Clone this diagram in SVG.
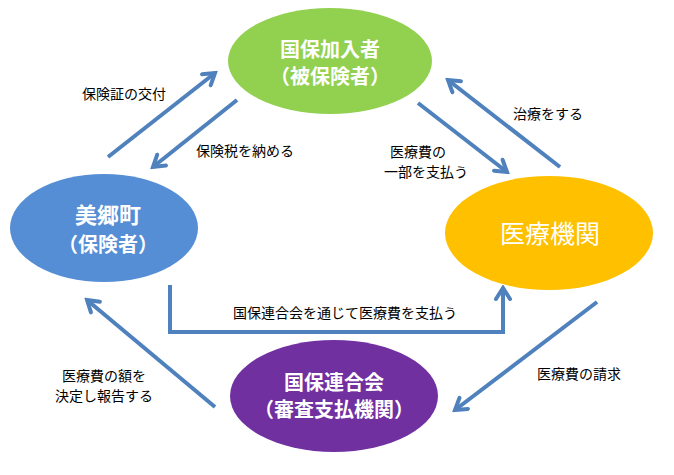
<svg xmlns="http://www.w3.org/2000/svg" width="674" height="475" viewBox="0 0 674 475">
<defs>
<marker id="ah" viewBox="0 0 18 18" refX="15" refY="9" markerWidth="18" markerHeight="18" markerUnits="userSpaceOnUse" orient="auto">
<path d="M4,2 L15,9 L4,16" fill="none" stroke="#4F81BD" stroke-width="4" stroke-linecap="round" stroke-linejoin="miter"/>
</marker>
<style>
.n{font-family:"Noto Sans CJK JP","Noto Sans CJK SC",sans-serif;fill:#fff;text-anchor:middle;dominant-baseline:central}
.b{font-weight:bold;font-size:20px}
.l{font-family:"Noto Sans CJK JP","Noto Sans CJK SC",sans-serif;font-size:14px;fill:#000;text-anchor:middle;dominant-baseline:central}
.c{fill:none;stroke:#4F81BD;stroke-width:4;marker-end:url(#ah)}
</style>
</defs>
<rect width="674" height="475" fill="#fff"/>
<g id="connectors">
<line class="c" x1="108" y1="157" x2="215" y2="73"/>
<line class="c" x1="237" y1="100" x2="153" y2="167"/>
<line class="c" x1="418" y1="103" x2="507" y2="172"/>
<line class="c" x1="560" y1="167" x2="448" y2="80"/>
<polyline class="c" points="170,285 170,332 503,332 503,288"/>
<line class="c" x1="215" y1="407" x2="87" y2="300"/>
<line class="c" x1="597" y1="302" x2="455" y2="410"/>
</g>
<g id="labels">
<text class="l" x="124" y="93">保険証の交付</text>
<text class="l" x="245" y="150">保険税を納める</text>
<text class="l" x="418" y="151">医療費の</text>
<text class="l" x="426" y="171">一部を支払う</text>
<text class="l" x="548" y="113">治療をする</text>
<text class="l" x="345" y="312">国保連合会を通じて医療費を支払う</text>
<text class="l" x="104" y="375">医療費の額を</text>
<text class="l" x="104" y="395">決定し報告する</text>
<text class="l" x="579" y="373">医療費の請求</text>
</g>
<g id="node-kokuho-kanyusha">
<ellipse cx="330" cy="61" rx="102" ry="53" fill="#92D050"/>
<text class="n b" x="330" y="48">国保加入者</text>
<text class="n b" x="330" y="75">（被保険者）</text>
</g>
<g id="node-misato">
<ellipse cx="104" cy="228" rx="94" ry="54" fill="#558ED5"/>
<text class="n b" x="108" y="213" style="font-size:22px">美郷町</text>
<text class="n b" x="108" y="243">（保険者）</text>
</g>
<g id="node-iryokikan">
<ellipse cx="549" cy="233" rx="104" ry="57" fill="#FFC000"/>
<text class="n" x="550" y="232" style="font-size:25px">医療機関</text>
</g>
<g id="node-kokuhoren">
<ellipse cx="334" cy="396" rx="104" ry="56" fill="#7030A0"/>
<text class="n b" x="334" y="381">国保連合会</text>
<text class="n b" x="334" y="408">（審査支払機関）</text>
</g>
</svg>
